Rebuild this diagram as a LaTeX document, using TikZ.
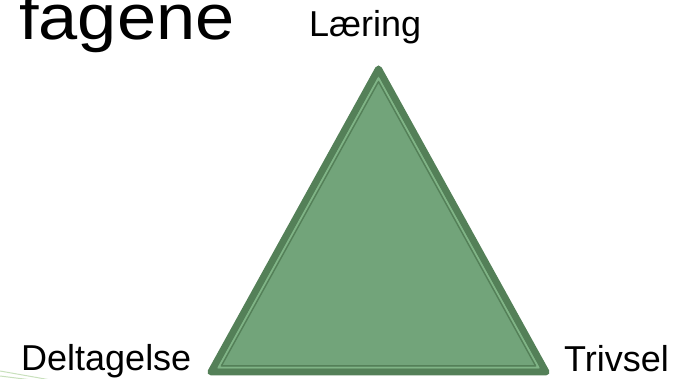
\documentclass[tikz,border=0pt]{standalone}
\usepackage{fontspec}
\setmainfont{Liberation Sans}
\usetikzlibrary{calc}
\definecolor{fillgreen}{HTML}{72A47A}
\definecolor{darkgreen}{HTML}{548058}
\definecolor{lightline}{HTML}{80B486}
\definecolor{decogreen}{HTML}{C8E0BC}
\tikzset{
  lbl/.style={anchor=base west, inner sep=0pt, font=\fontsize{36}{40}\selectfont},
  titletxt/.style={anchor=base west, inner sep=0pt, font=\fontsize{64}{68}\selectfont, xscale=1.1, transform shape},
}
\begin{document}
\begin{tikzpicture}[x=1pt,y=-1pt]
\useasboundingbox (0,0) rectangle (681,379);
% decorative lines
\draw[decogreen, line width=1pt] (0,371) -- (48,379.5);
\draw[decogreen, line width=1pt] (0,376) -- (28,379.5);
% triangle
\coordinate (A) at (378.5,69);
\coordinate (B) at (211,372);
\coordinate (C) at (546,372);
\coordinate (I) at (378.5,273.2);
\draw[fill=fillgreen, draw=darkgreen, line width=7pt, line join=round] (A) -- (B) -- (C) -- cycle;
\draw[lightline, line width=1.8pt, line join=round] ($(I)!0.955!(A)$) -- ($(I)!0.955!(B)$) -- ($(I)!0.955!(C)$) -- cycle;
\draw[darkgreen, line width=1.4pt, line join=round] ($(I)!0.938!(A)$) -- ($(I)!0.938!(B)$) -- ($(I)!0.938!(C)$) -- cycle;
% texts
\node[titletxt] (title) at (19,40) {fagene};
\node[lbl] (laering) at (309,37) {Læring};
\node[lbl] (deltagelse) at (21,371) {Deltagelse};
\node[lbl] (trivsel) at (564,372) {Trivsel};
\end{tikzpicture}
\end{document}
